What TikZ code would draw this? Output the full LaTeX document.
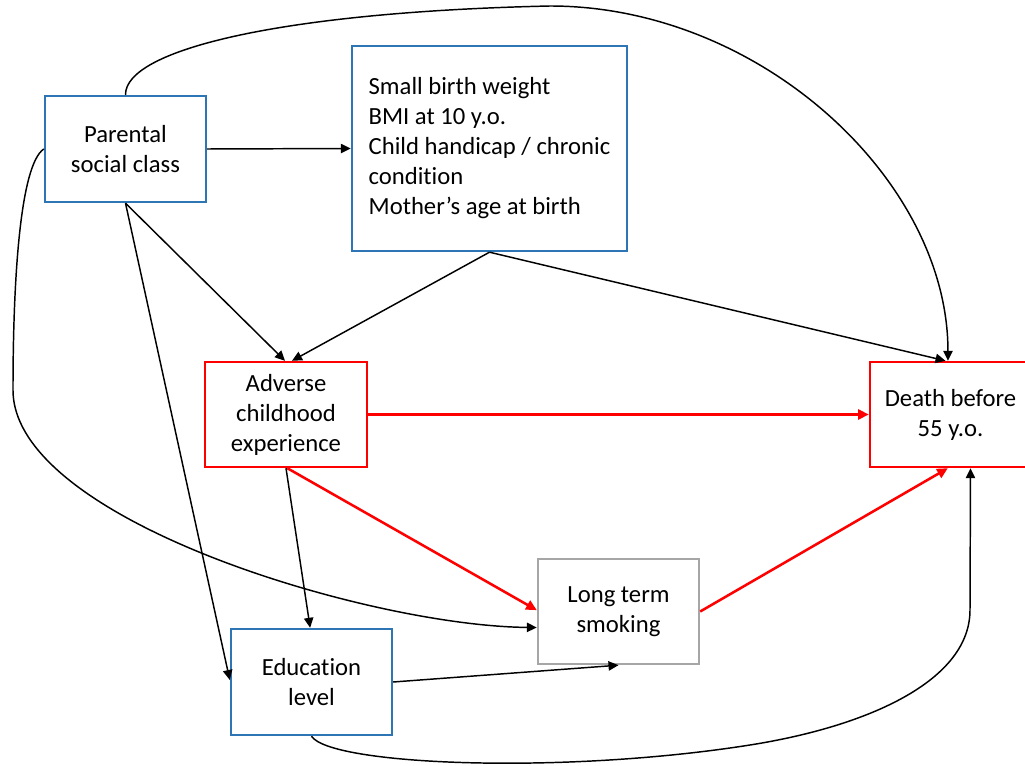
\documentclass[tikz,border=0pt]{standalone}
\usepackage{fontspec}
\setmainfont{Carlito}[Ligatures=NoCommon]
\usetikzlibrary{arrows.meta}
\definecolor{boxblue}{RGB}{46,117,182}
\definecolor{boxred}{RGB}{255,0,0}
\definecolor{boxgray}{RGB}{166,166,166}
\tikzset{
  box/.style={draw, line width=1.8pt, fill=white, align=center, inner sep=0pt,
    font=\fontsize{18.5pt}{22.5pt}\selectfont},
  bluebox/.style={box, draw=boxblue},
  redbox/.style={box, draw=boxred},
  graybox/.style={box, draw=boxgray},
  arr/.style={draw=black, line width=1.1pt, -{Triangle[length=7.5pt,width=7pt]}},
  redarr/.style={draw=boxred, line width=1.9pt, -{Triangle[length=8pt,width=7.5pt]}}
}
\begin{document}
\begin{tikzpicture}[x=0.75pt,y=-0.75pt]
\clip (0,0) rectangle (1025,766);
\fill[white] (0,0) rectangle (1025,766);

\coordinate (top) at (550,6);
\coordinate (left) at (13,390);
\coordinate (bottom) at (750,745);

\node[bluebox, minimum width=120.75pt, minimum height=79.5pt] (P) at (125.5,149) {Parental\\social class};
\node[bluebox, minimum width=206.25pt, minimum height=153.75pt, align=left] (S) at (489.5,148.5) {Small birth weight\\BMI at 10 y.o.\\Child handicap / chronic\\condition\\Mother’s age at birth};
\node[redbox, minimum width=121.5pt, minimum height=78.75pt] (A) at (286,414.5) {Adverse\\childhood\\experience};
\node[redbox, minimum width=120.75pt, minimum height=78.75pt] (D) at (950.5,414.5) {Death before\\55 y.o.};
\node[graybox, minimum width=120.75pt, minimum height=78.75pt] (L) at (618.5,611.5) {Long term\\smoking};
\node[bluebox, minimum width=120.75pt, minimum height=79.5pt] (E) at (311.5,682) {Education\\level};

% black connectors
\draw[arr] (P.east) -- (S.west);
\draw[arr] (P.north) .. controls (125,50) and (280,12) .. (top)
  .. controls (760,6) and (948,180) .. ([xshift=-1.9pt]D.north);
\draw[arr] (P.west) .. controls (20,165) and (13,280) .. (left)
  .. controls (13,520) and (370,626) .. ([yshift=-12pt]L.west);
\draw[arr] (P.south) -- ([xshift=-0.75pt]A.north);
\draw[arr] (P.south) -- ([yshift=1.5pt]E.west);
\draw[arr] (S.south) -- ([xshift=4.5pt]A.north);
\draw[arr] (S.south) -- ([xshift=-3.75pt]D.north);
\draw[arr] (A.south) -- ([xshift=-1pt]E.north);
\draw[arr] (E.east) -- (L.south);
\draw[arr] (E.south) .. controls (330,765) and (560,775) .. (bottom)
  .. controls (870,726) and (970,680) .. (970,610) -- ([xshift=15pt]D.south);

% red connectors
\draw[redarr] (A.east) -- (D.west);
\draw[redarr] ([xshift=1pt]A.south) -- ([yshift=1pt]L.west);
\draw[redarr] (L.east) -- ([xshift=-2pt]D.south);
\end{tikzpicture}
\end{document}
